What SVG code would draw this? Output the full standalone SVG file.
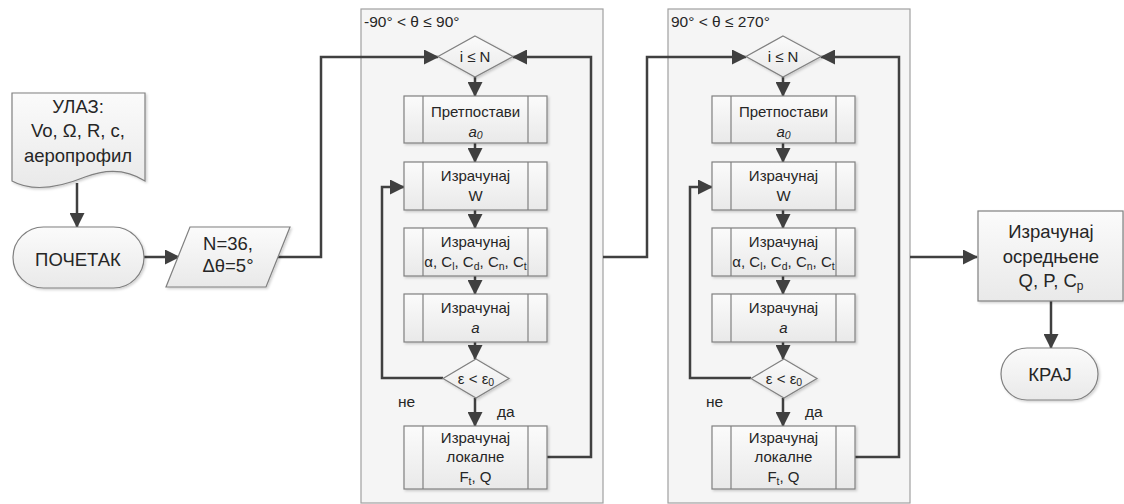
<svg xmlns="http://www.w3.org/2000/svg" width="1124" height="504" viewBox="0 0 1124 504">
<defs>
<linearGradient id="g" x1="0" y1="0" x2="0" y2="1"><stop offset="0" stop-color="#fbfbfb"/><stop offset="1" stop-color="#e9e9e9"/></linearGradient>
<filter id="sh" x="-10%" y="-10%" width="130%" height="130%"><feDropShadow dx="1.5" dy="1.5" stdDeviation="1.2" flood-color="#000" flood-opacity="0.18"/></filter>
<marker id="ar" markerUnits="userSpaceOnUse" markerWidth="15" markerHeight="15" viewBox="0 0 15 15" refX="14" refY="7.5" orient="auto"><path d="M0,0 L15,7.5 L0,15 Z" fill="#404040"/></marker>
<style>
.n{fill:url(#g);stroke:#808080;stroke-width:1.2;filter:url(#sh)}
.c{fill:#f5f5f5;stroke:#a0a0a0;stroke-width:1.2}
.i{fill:none;stroke:#808080;stroke-width:1.2}
.a{fill:none;stroke:#404040;stroke-width:2.5;marker-end:url(#ar)}
text{font-family:"Liberation Sans",Arial,sans-serif;fill:#262626}
.t{font-size:15px;text-anchor:middle}
.b{font-size:18.5px;text-anchor:middle}
.l{font-size:15.5px}
</style>
</defs>
<rect width="1124" height="504" fill="#ffffff"/>

<g id="container1">
<rect class="c" x="361" y="9" width="242" height="494"/>
<text class="l" x="364" y="27">-90° &lt; θ ≤ 90°</text>
</g>
<g id="container2">
<rect class="c" x="668" y="9" width="242" height="494"/>
<text class="l" x="671" y="27">90° &lt; θ ≤ 270°</text>
</g>

<g id="connectors">
<path class="a" d="M77,183 V227"/>
<path class="a" d="M144,257 H179"/>
<path class="a" d="M278,257 H321 V57 H438"/>
<path class="a" d="M475,77 V96"/>
<path class="a" d="M475,143 V162"/>
<path class="a" d="M475,210 V228"/>
<path class="a" d="M475,276 V294"/>
<path class="a" d="M475,342 V359"/>
<path class="a" d="M475,398 V426"/>
<path class="a" d="M443,378 H382 V187 H404"/>
<path class="a" d="M547,457 H591 V57 H513"/>
<path class="a" d="M603,257 H647 V57 H746"/>
<path class="a" d="M783,77 V96"/>
<path class="a" d="M783,143 V162"/>
<path class="a" d="M783,210 V228"/>
<path class="a" d="M783,276 V294"/>
<path class="a" d="M783,342 V359"/>
<path class="a" d="M783,398 V426"/>
<path class="a" d="M751,378 H690 V187 H712"/>
<path class="a" d="M855,457 H899 V57 H821"/>
<path class="a" d="M910,257 H977"/>
<path class="a" d="M1051,301 V348"/>
</g>

<g id="input">
<path class="n" d="M12,93 H145 V181 C128,170 108,168 85,177 C58,188 32,192 12,181 Z"/>
<text class="b" x="78" y="113">УЛАЗ:</text>
<text class="b" x="78" y="137">Vo, Ω, R, c,</text>
<text class="b" x="78" y="162">аеропрофил</text>
</g>
<g id="start">
<rect class="n" x="13" y="227" width="131" height="61" rx="30.5"/>
<text class="b" x="78" y="266" font-size="17.5">ПОЧЕТАК</text>
</g>
<g id="params">
<polygon class="n" points="190,227 290,227 266,287 166,287"/>
<text class="b" x="228" y="250">N=36,</text>
<text class="b" x="228" y="272">Δθ=5°</text>
</g>

<g id="l_cond">
<polygon class="n" points="475,36 513,56.5 475,77 438,56.5"/>
<text class="t" x="475" y="62">i ≤ N</text>
</g>
<g id="l_assume">
<rect class="n" x="404" y="96" width="143" height="47"/><path class="i" d="M423,96 V143 M528,96 V143"/>
<text class="t" x="475.5" y="117">Претпостави</text>
<text class="t" x="475.5" y="137" font-style="italic">a<tspan font-size="10.5" dy="2">0</tspan></text>
</g>
<g id="l_w">
<rect class="n" x="404" y="162" width="143" height="48"/><path class="i" d="M423,162 V210 M528,162 V210"/>
<text class="t" x="475.5" y="181">Израчунај</text>
<text class="t" x="475.5" y="201">W</text>
</g>
<g id="l_coef">
<rect class="n" x="404" y="228" width="143" height="48"/><path class="i" d="M423,228 V276 M528,228 V276"/>
<text class="t" x="475.5" y="247">Израчунај</text>
<text class="t" x="475.5" y="267">α, C<tspan font-size="10.5" dy="3">l</tspan><tspan dy="-3">, C</tspan><tspan font-size="10.5" dy="3">d</tspan><tspan dy="-3">, C</tspan><tspan font-size="10.5" dy="3">n</tspan><tspan dy="-3">, C</tspan><tspan font-size="10.5" dy="3">t</tspan></text>
</g>
<g id="l_a">
<rect class="n" x="404" y="294" width="143" height="48"/><path class="i" d="M423,294 V342 M528,294 V342"/>
<text class="t" x="475.5" y="313">Израчунај</text>
<text class="t" x="475.5" y="333" font-style="italic">a</text>
</g>
<g id="l_conv">
<polygon class="n" points="476,359 509,378.5 476,398 443,378.5"/>
<text class="t" x="476" y="384">ε &lt; ε<tspan font-size="10.5" dy="2">0</tspan></text>
<text class="l" x="398" y="407">не</text>
<text class="l" x="497" y="417">да</text>
</g>
<g id="l_local">
<rect class="n" x="404" y="426" width="143" height="63"/><path class="i" d="M423,426 V489 M528,426 V489"/>
<text class="t" x="475.5" y="443">Израчунај</text>
<text class="t" x="475.5" y="462">локалне</text>
<text class="t" x="475.5" y="482">F<tspan font-size="10.5" dy="3">t</tspan><tspan dy="-3">, Q</tspan></text>
</g>

<g id="r_cond">
<polygon class="n" points="783,36 821,56.5 783,77 746,56.5"/>
<text class="t" x="783" y="62">i ≤ N</text>
</g>
<g id="r_assume">
<rect class="n" x="712" y="96" width="143" height="47"/><path class="i" d="M731,96 V143 M836,96 V143"/>
<text class="t" x="783.5" y="117">Претпостави</text>
<text class="t" x="783.5" y="137" font-style="italic">a<tspan font-size="10.5" dy="2">0</tspan></text>
</g>
<g id="r_w">
<rect class="n" x="712" y="162" width="143" height="48"/><path class="i" d="M731,162 V210 M836,162 V210"/>
<text class="t" x="783.5" y="181">Израчунај</text>
<text class="t" x="783.5" y="201">W</text>
</g>
<g id="r_coef">
<rect class="n" x="712" y="228" width="143" height="48"/><path class="i" d="M731,228 V276 M836,228 V276"/>
<text class="t" x="783.5" y="247">Израчунај</text>
<text class="t" x="783.5" y="267">α, C<tspan font-size="10.5" dy="3">l</tspan><tspan dy="-3">, C</tspan><tspan font-size="10.5" dy="3">d</tspan><tspan dy="-3">, C</tspan><tspan font-size="10.5" dy="3">n</tspan><tspan dy="-3">, C</tspan><tspan font-size="10.5" dy="3">t</tspan></text>
</g>
<g id="r_a">
<rect class="n" x="712" y="294" width="143" height="48"/><path class="i" d="M731,294 V342 M836,294 V342"/>
<text class="t" x="783.5" y="313">Израчунај</text>
<text class="t" x="783.5" y="333" font-style="italic">a</text>
</g>
<g id="r_conv">
<polygon class="n" points="784,359 817,378.5 784,398 751,378.5"/>
<text class="t" x="784" y="384">ε &lt; ε<tspan font-size="10.5" dy="2">0</tspan></text>
<text class="l" x="706" y="407">не</text>
<text class="l" x="805" y="417">да</text>
</g>
<g id="r_local">
<rect class="n" x="712" y="426" width="143" height="63"/><path class="i" d="M731,426 V489 M836,426 V489"/>
<text class="t" x="783.5" y="443">Израчунај</text>
<text class="t" x="783.5" y="462">локалне</text>
<text class="t" x="783.5" y="482">F<tspan font-size="10.5" dy="3">t</tspan><tspan dy="-3">, Q</tspan></text>
</g>

<g id="average">
<rect class="n" x="978" y="211" width="145" height="90"/>
<text class="b" x="1051" y="238" font-size="19">Израчунај</text>
<text class="b" x="1051" y="263" font-size="19">осредњене</text>
<text class="b" x="1051" y="287" font-size="19">Q, P, C<tspan font-size="12" dy="3">p</tspan></text>
</g>
<g id="end">
<rect class="n" x="1001" y="348" width="97" height="52" rx="26"/>
<text class="b" x="1050" y="381">КРАЈ</text>
</g>
</svg>
